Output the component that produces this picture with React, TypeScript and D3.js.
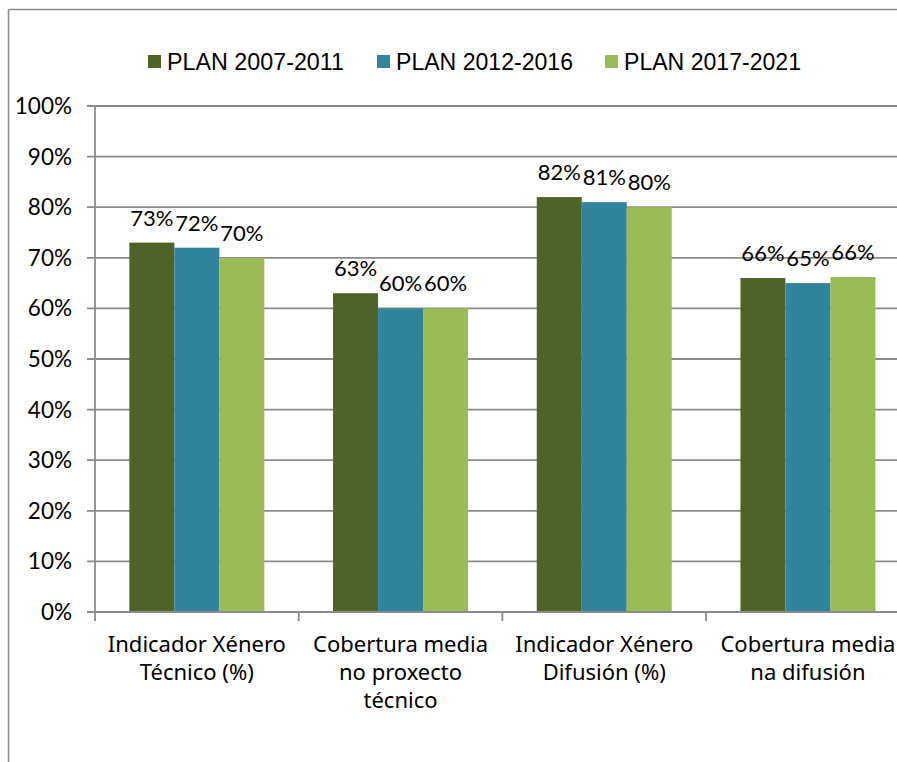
import React from "react";
import * as d3 from "d3";

const categories = [
  ["Indicador Xénero", "Técnico (%)"],
  ["Cobertura media", "no proxecto", "técnico"],
  ["Indicador Xénero", "Difusión (%)"],
  ["Cobertura media", "na difusión"],
];
const seriesNames = ["PLAN 2007-2011", "PLAN 2012-2016", "PLAN 2017-2021"];
const plan2007 = [0.73, 0.63, 0.82, 0.66];
const plan2012 = [0.72, 0.6, 0.81, 0.65];
const plan2017 = [0.7, 0.6, 0.8, 0.662];
const valueLabels = [
  ["73%", "72%", "70%"],
  ["63%", "60%", "60%"],
  ["82%", "81%", "80%"],
  ["66%", "65%", "66%"],
];
const yTicks = [0, 0.1, 0.2, 0.3, 0.4, 0.5, 0.6, 0.7, 0.8, 0.9, 1.0];
const colors = ["#4F6228", "#31849B", "#9BBB59"];

export default function App() {
  const W = 897, H = 762;
  const left = 95, top = 106, bottom = 612;
  const catW = 203.7;
  const right = left + catW * 4;
  const series = [plan2007, plan2012, plan2017];
  const idx = categories.map((_, i) => String(i));
  const x0 = d3.scaleBand<string>().domain(idx).range([left, right]);
  const groupW = 135;
  const x1 = d3
    .scaleBand<string>()
    .domain(seriesNames)
    .range([(catW - groupW) / 2, (catW + groupW) / 2]);
  const y = d3.scaleLinear().domain([0, 1]).range([bottom, top]);
  const grid = "#8C8C8C";
  const numFont = "Lato, 'Noto Sans', sans-serif";
  const catFont = "'Noto Sans', 'Open Sans', sans-serif";
  const legFont = "'Liberation Sans Narrow', 'Liberation Sans', sans-serif";

  const legendX = [148, 377, 605];

  return (
    <svg
      width={W}
      height={H}
      style={{ position: "absolute", left: 0, top: 0, display: "block" }}
    >
      <rect x={0} y={0} width={W} height={H} fill="#fff" />
      {/* outer border */}
      <line x1={8.5} y1={9.5} x2={W} y2={9.5} stroke={grid} strokeWidth={1.5} />
      <line x1={8.5} y1={9.5} x2={8.5} y2={H} stroke={grid} strokeWidth={1.5} />

      {/* legend */}
      {seriesNames.map((s, i) => (
        <g key={s} transform={`translate(${legendX[i]},62)`}>
          <rect x={0} y={-7} width={13} height={13} fill={colors[i]} />
          <text
            x={19}
            y={8}
            fontFamily={legFont}
            fontSize={23}
            fill="#000"
            textLength={177}
            lengthAdjust="spacingAndGlyphs"
          >
            {s}
          </text>
        </g>
      ))}

      {/* gridlines */}
      {yTicks.map((t) => (
        <g key={t}>
          <line
            x1={87}
            x2={right}
            y1={y(t)}
            y2={y(t)}
            stroke={grid}
            strokeWidth={1.8}
          />
          <text
            x={72}
            y={y(t) + 8}
            textAnchor="end"
            fontFamily={numFont}
            fontSize={22.5}
            fill="#000"
          >
            {`${Math.round(t * 100)}%`}
          </text>
        </g>
      ))}
      {/* y axis */}
      <line x1={left} x2={left} y1={top} y2={bottom} stroke={grid} strokeWidth={1.8} />

      {/* bars */}
      {idx.map((c, ci) => (
        <g key={c} transform={`translate(${x0(c)},0)`}>
          {series.map((vals, si) => {
            const bx = x1(seriesNames[si])!;
            const bw = x1.bandwidth();
            return (
              <g key={si}>
                <rect
                  x={bx}
                  y={y(vals[ci])}
                  width={bw}
                  height={bottom - y(vals[ci])}
                  fill={colors[si]}
                />
                <text
                  x={bx + bw / 2}
                  y={y(vals[ci]) - 17}
                  textAnchor="middle"
                  fontFamily={numFont}
                  fontSize={22}
                  fill="#000"
                >
                  {valueLabels[ci][si]}
                </text>
              </g>
            );
          })}
        </g>
      ))}

      {/* x axis */}
      <line x1={left} x2={right} y1={bottom} y2={bottom} stroke={grid} strokeWidth={1.8} />
      {[...idx, "end"].map((c, i) => {
        const xv = i < idx.length ? x0(c)! : right;
        return (
          <line
            key={c}
            x1={xv}
            x2={xv}
            y1={bottom}
            y2={bottom + 9}
            stroke={grid}
            strokeWidth={1.8}
          />
        );
      })}
      {idx.map((c, ci) => (
        <text
          key={c}
          textAnchor="middle"
          fontFamily={catFont}
          fontSize={22}
          fill="#000"
        >
          {categories[ci].map((line, li) => (
            <tspan key={li} x={x0(c)! + catW / 2} y={652 + li * 28}>
              {line}
            </tspan>
          ))}
        </text>
      ))}
    </svg>
  );
}
